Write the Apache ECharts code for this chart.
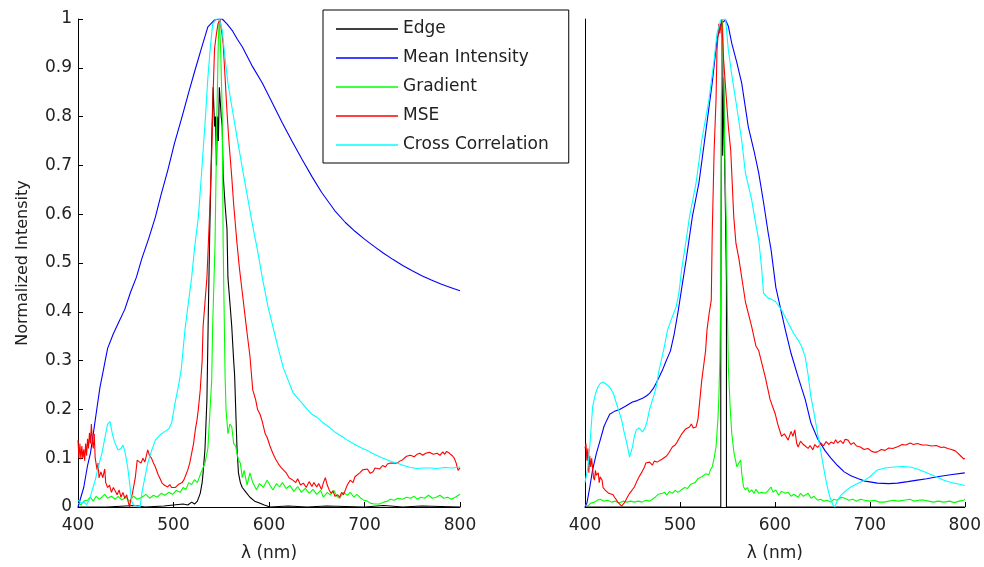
<!DOCTYPE html>
<html><head><meta charset="utf-8">
<script src="https://cdn.jsdelivr.net/npm/echarts@6/dist/echarts.min.js"></script>
<style>html,body{margin:0;padding:0;background:#fff}#c{width:984px;height:567px}</style>
</head><body><div id="c"></div>
<script>
// ---- data: [wavelength nm, normalized intensity] ----
const seriesNames = ['Edge','Mean Intensity','Gradient','MSE','Cross Correlation'];
const xTicks = [400,500,600,700,800];
const yTicks = [0,0.1,0.2,0.3,0.4,0.5,0.6,0.7,0.8,0.9,1];

const leftEdge = [[400,0],[430,0],[460,0.003],[470,0],[490,0.002],[500,0.004],[510,0.006],[515,0.004],[519,0.01],[522,0.006],[525,0.012],[528,0.028],[530,0.05],[531,0.07],[533,0.12],[535,0.22],[536.5,0.40],[538,0.57],[540,0.75],[541.5,0.86],[543,0.78],[544,0.80],[545,0.70],[546,0.80],[547,0.75],[548,0.86],[549,0.86],[550,0.80],[551,0.78],[552,0.68],[554,0.62],[556,0.57],[557,0.47],[559,0.42],[561,0.37],[563,0.30],[564,0.27],[565.5,0.18],[566.5,0.12],[568,0.07],[570,0.05],[572,0.04],[576,0.03],[580,0.02],[585,0.012],[590,0.008],[595,0.004],[601,0],[620,0.002],[640,0],[660,0.002],[700,0],[720,0.003],[740,0],[760,0.002],[800,0]];

const leftMean = [[400,0],[402,0],[406,0.04],[410,0.085],[413,0.11],[416,0.15],[420,0.205],[423,0.245],[426,0.275],[431,0.325],[437,0.355],[443,0.38],[449,0.405],[455,0.44],[461,0.47],[467,0.51],[474,0.55],[481,0.594],[487,0.64],[494,0.69],[501,0.745],[509,0.80],[516,0.85],[522.5,0.895],[530,0.945],[536,0.984],[543,0.998],[548,1.0],[551,1.0],[556,0.99],[562,0.975],[567,0.958],[572,0.943],[582,0.905],[593,0.869],[603,0.83],[614,0.787],[624,0.75],[635,0.711],[645,0.677],[655,0.645],[669,0.607],[680,0.583],[690,0.565],[700,0.549],[710,0.534],[720,0.52],[730,0.507],[740,0.495],[750,0.484],[760,0.474],[770,0.465],[780,0.457],[790,0.45],[800,0.443]];

const leftGradient = [[400,0.008],[403,0.004],[406,0.012],[410,0.014],[413,0.02],[416,0.012],[419,0.022],[422,0.016],[425,0.02],[428,0.026],[431,0.018],[435,0.022],[439,0.016],[442,0.022],[446,0.014],[450,0.02],[454,0.012],[458,0.022],[462,0.016],[467,0.02],[471,0.026],[475,0.018],[479,0.024],[483,0.02],[487,0.028],[491,0.024],[495,0.03],[499,0.026],[503,0.034],[507,0.03],[510,0.04],[513,0.036],[516,0.05],[519,0.046],[522,0.056],[525,0.05],[528,0.066],[530,0.076],[533,0.09],[536,0.12],[538,0.19],[540,0.26],[541,0.37],[543.5,0.54],[545.5,0.81],[547,0.96],[548,1.0],[549.5,0.93],[551,0.81],[552,0.54],[554,0.27],[555,0.2],[557,0.15],[559,0.17],[561,0.165],[563,0.13],[565,0.125],[568,0.096],[570,0.09],[572,0.06],[574,0.075],[577,0.045],[580,0.07],[583,0.05],[587,0.035],[590,0.048],[594,0.04],[598,0.055],[601,0.045],[604,0.035],[608,0.048],[611,0.041],[614,0.05],[618,0.038],[622,0.044],[626,0.032],[630,0.042],[634,0.03],[638,0.038],[642,0.028],[646,0.036],[650,0.026],[654,0.034],[657,0.02],[661,0.03],[664,0.025],[668,0.034],[671,0.022],[674,0.018],[678,0.03],[682,0.024],[685,0.03],[689,0.02],[692,0.026],[695,0.02],[699,0.014],[703,0.012],[706,0.008],[710,0.006],[716,0.006],[720,0.01],[724,0.012],[727,0.016],[731,0.014],[735,0.018],[740,0.016],[744,0.02],[748,0.018],[752,0.022],[755,0.016],[759,0.02],[763,0.018],[767,0.024],[771,0.018],[775,0.02],[779,0.024],[783,0.018],[787,0.02],[791,0.016],[795,0.02],[800,0.026]];

const leftMSE = [[400,0.137],[401,0.1],[402,0.13],[403,0.098],[404,0.125],[405,0.1],[406,0.118],[407,0.095],[408,0.13],[409,0.105],[410,0.14],[411,0.12],[412,0.152],[413,0.13],[414,0.17],[415,0.135],[416,0.12],[417,0.15],[418,0.1],[420,0.076],[421,0.09],[422,0.06],[424,0.072],[426,0.06],[428,0.078],[429,0.05],[431,0.04],[433,0.045],[435,0.03],[437,0.04],[439,0.033],[441,0.025],[443,0.035],[445,0.02],[447,0.03],[449,0.018],[451,0.025],[452,0.015],[454,0.0],[455,0.012],[457,0.028],[458,0.03],[460,0.06],[462,0.096],[464,0.1],[466,0.09],[468,0.1],[470,0.092],[472,0.094],[473,0.117],[475,0.105],[477,0.1],[479,0.09],[481,0.082],[484,0.066],[486,0.058],[488,0.049],[491,0.044],[494,0.041],[496,0.046],[498,0.04],[500,0.042],[502,0.04],[505,0.046],[507,0.044],[509,0.05],[511,0.056],[513,0.066],[515,0.076],[517,0.09],[519,0.11],[521,0.13],[523,0.16],[524.6,0.178],[526,0.2],[528,0.24],[530,0.3],[531,0.37],[533,0.42],[535,0.47],[536.5,0.54],[538,0.61],[540,0.725],[541.5,0.85],[543,0.94],[545,0.97],[546.6,0.99],[548.7,1.0],[550,0.98],[552,0.95],[554,0.88],[556,0.81],[558,0.75],[561,0.676],[563,0.62],[566.5,0.54],[569,0.49],[572,0.44],[575,0.39],[577,0.357],[580,0.31],[583,0.24],[586,0.22],[588,0.2],[590.6,0.19],[593,0.175],[596,0.15],[598,0.143],[601,0.125],[604,0.11],[607,0.098],[610,0.088],[613,0.08],[615,0.076],[618,0.07],[621,0.06],[623,0.062],[625,0.055],[628,0.05],[630,0.058],[633,0.045],[636,0.049],[639,0.04],[642,0.052],[645,0.042],[647,0.05],[650,0.041],[652,0.048],[655,0.036],[657,0.05],[659,0.06],[661,0.045],[663,0.035],[665,0.028],[667,0.033],[669,0.022],[672,0.025],[674,0.02],[676,0.03],[678,0.025],[680,0.035],[682,0.045],[685,0.055],[688,0.05],[690,0.062],[692,0.058],[695,0.07],[698,0.076],[700,0.072],[703,0.078],[706,0.069],[709,0.072],[711,0.08],[713,0.076],[716,0.078],[719,0.085],[722,0.082],[724,0.088],[727,0.09],[730,0.09],[734,0.09],[737,0.094],[740,0.097],[744,0.104],[748,0.106],[752,0.103],[755,0.108],[758,0.11],[761,0.106],[764,0.11],[768,0.112],[772,0.108],[776,0.11],[779,0.106],[782,0.113],[784,0.108],[786,0.114],[789,0.11],[792,0.105],[794,0.1],[796,0.09],[797,0.082],[798,0.075],[800,0.08]];

const leftCross = [[400,0.014],[403,0.008],[406,0.01],[409,0.005],[412,0.015],[415,0.035],[418,0.055],[421,0.08],[425,0.11],[428,0.14],[431,0.17],[433.5,0.175],[436,0.15],[438,0.135],[440,0.125],[442,0.117],[445,0.12],[447,0.127],[449,0.115],[452,0.082],[454,0.05],[456,0.014],[458,0.004],[460,0],[465,0],[467,0.03],[470,0.06],[473,0.09],[477,0.115],[481,0.137],[486,0.148],[491,0.155],[495,0.16],[498,0.172],[501.6,0.213],[505,0.246],[508,0.28],[512,0.363],[515,0.41],[519,0.47],[522,0.53],[526,0.594],[528.5,0.66],[531,0.73],[533.5,0.8],[536,0.88],[538.5,0.94],[541,0.99],[545,1.0],[548,1.0],[551,0.977],[554,0.92],[557,0.868],[562,0.81],[567.5,0.746],[572.5,0.69],[578,0.63],[583,0.575],[588,0.526],[593,0.47],[599,0.41],[604,0.37],[609,0.33],[615,0.285],[620,0.26],[625,0.235],[629,0.225],[635,0.212],[640,0.2],[645,0.19],[650,0.184],[657,0.172],[664,0.162],[670,0.152],[676,0.145],[682,0.137],[688,0.13],[694,0.124],[698,0.12],[703,0.116],[708,0.11],[716,0.103],[722,0.098],[728,0.093],[734,0.09],[741,0.085],[748,0.081],[755,0.079],[762,0.08],[769,0.08],[776,0.079],[784,0.081],[792,0.08],[800,0.082]];

const rightEdge = [[400,0],[543,0],[543,0.36],[544,0.98],[545,0.72],[546,0.88],[547,0.72],[548,0.6],[549,0.46],[549,0],[800,0]];

const rightMean = [[400,0],[402,0.008],[405,0.04],[408,0.076],[412,0.11],[416,0.137],[420,0.165],[423,0.178],[426,0.19],[431,0.196],[436.5,0.2],[443,0.207],[450,0.215],[455,0.218],[460.6,0.223],[465,0.228],[468,0.233],[472,0.243],[475,0.254],[478,0.266],[481.5,0.28],[485,0.297],[490,0.32],[494,0.355],[498,0.40],[502,0.45],[506.5,0.506],[513,0.594],[520,0.664],[527,0.766],[534,0.869],[539,0.957],[543,0.99],[548,0.998],[551,0.985],[554.6,0.95],[560,0.91],[565,0.869],[572,0.779],[578,0.73],[583,0.684],[588,0.625],[593,0.561],[596,0.527],[601,0.45],[604,0.424],[611,0.363],[617,0.315],[624.5,0.266],[632,0.22],[638,0.172],[645,0.14],[653,0.115],[659,0.1],[666,0.085],[673,0.072],[680,0.064],[688,0.058],[695,0.053],[708,0.049],[720,0.048],[729,0.049],[740,0.052],[750,0.055],[760,0.058],[771,0.062],[785,0.066],[800,0.07]];

const rightGradient = [[400,0.004],[403,0.002],[406,0.008],[410,0.01],[413,0.014],[416,0.016],[420,0.012],[424,0.014],[428,0.01],[432,0.012],[436,0.008],[440,0.012],[444,0.01],[448,0.012],[452,0.01],[456,0.012],[460,0.01],[464,0.014],[468,0.012],[471,0.016],[474,0.02],[477,0.026],[479,0.022],[481.5,0.028],[484,0.03],[486,0.024],[489,0.032],[492,0.028],[495,0.034],[498,0.03],[502,0.036],[505,0.04],[508,0.038],[511,0.046],[513,0.049],[516,0.05],[519,0.058],[521,0.056],[523,0.062],[525,0.06],[527,0.068],[530.5,0.066],[532,0.076],[534,0.082],[536,0.1],[538,0.123],[540,0.18],[541,0.225],[542,0.3],[543,0.45],[543.5,0.7],[544,1.0],[545,0.99],[546,0.9],[547,0.75],[549,0.56],[550,0.4],[551,0.287],[553,0.2],[554.6,0.15],[557,0.11],[560,0.082],[562,0.09],[564,0.096],[565,0.07],[567,0.041],[569,0.035],[571,0.04],[573,0.03],[575.5,0.035],[578,0.028],[580,0.036],[583,0.028],[586,0.03],[588,0.026],[590,0.028],[593,0.034],[596,0.041],[598,0.03],[601,0.035],[604,0.024],[607,0.032],[611,0.028],[614,0.03],[617,0.022],[620,0.026],[624.5,0.02],[627,0.028],[630,0.022],[635,0.028],[638,0.018],[641,0.022],[645,0.014],[648,0.016],[652,0.012],[655,0.014],[659,0.01],[662,0.016],[666,0.014],[670,0.02],[673.6,0.018],[678,0.014],[682,0.016],[686,0.012],[690,0.016],[694.5,0.014],[700,0.012],[705,0.014],[710,0.01],[715,0.01],[720,0.012],[725,0.014],[730,0.012],[736,0.014],[742,0.016],[747,0.012],[752,0.014],[757,0.014],[762,0.012],[767,0.01],[772,0.012],[778,0.01],[784,0.012],[789,0.009],[794,0.012],[799,0.014],[800,0.016]];

const rightMSE = [[400,0.12],[401,0.13],[402,0.095],[403,0.12],[404,0.07],[405,0.105],[406,0.082],[407,0.1],[408,0.08],[409,0.06],[410,0.055],[411,0.075],[412,0.065],[414,0.07],[415,0.05],[416,0.062],[418,0.055],[419,0.04],[421,0.035],[423,0.038],[425,0.028],[427,0.03],[429.6,0.025],[431,0.02],[433,0.015],[434.5,0.01],[436,0.008],[438.6,0.002],[440,0.004],[442,0.01],[444,0.018],[447,0.028],[449,0.032],[452,0.041],[454,0.05],[457,0.062],[460,0.072],[462.7,0.082],[464,0.09],[466,0.086],[468,0.092],[471,0.086],[473,0.094],[476,0.092],[478,0.096],[481,0.098],[483,0.102],[485.6,0.104],[488,0.11],[490,0.114],[492,0.123],[495,0.127],[497,0.133],[499,0.137],[502,0.15],[504,0.152],[506,0.16],[508,0.158],[510,0.164],[512,0.17],[514,0.162],[517,0.164],[519,0.18],[520,0.2],[522,0.24],[523,0.26],[525,0.29],[527,0.32],[528.5,0.363],[531,0.4],[533,0.424],[534,0.56],[536,0.73],[538,0.834],[539,0.936],[541,0.99],[542,0.97],[544,1.0],[546,0.916],[549,0.834],[551,0.78],[553.5,0.73],[556.7,0.594],[559,0.54],[562,0.51],[569,0.42],[575.5,0.37],[580,0.33],[583,0.32],[590,0.265],[595,0.22],[600.5,0.19],[603,0.17],[607,0.145],[610,0.15],[614,0.137],[617,0.155],[619,0.145],[621,0.158],[623,0.13],[624.5,0.123],[627,0.135],[630,0.128],[632,0.131],[635,0.12],[637,0.126],[640,0.117],[642,0.128],[645,0.122],[648.6,0.131],[651,0.125],[654,0.134],[657,0.128],[659,0.133],[662,0.13],[664,0.138],[666,0.131],[669,0.136],[672,0.13],[674,0.139],[677,0.137],[680,0.128],[683,0.132],[686,0.125],[690,0.123],[694,0.118],[698,0.12],[702,0.114],[705,0.112],[708,0.113],[712,0.118],[716,0.116],[720,0.121],[724,0.12],[726,0.123],[730,0.124],[734,0.128],[738,0.127],[742.5,0.131],[746,0.128],[750,0.13],[755,0.127],[760,0.127],[765,0.125],[770,0.126],[775,0.122],[778,0.123],[782,0.12],[786,0.118],[790,0.115],[793,0.11],[796,0.104],[799,0.098],[800,0.1]];

const rightCross = [[400,0.05],[402,0.049],[403,0.08],[405,0.123],[408,0.205],[411,0.232],[413.6,0.246],[416,0.253],[419,0.256],[422,0.252],[426,0.246],[430,0.232],[433,0.213],[436,0.195],[438.6,0.178],[441,0.155],[444,0.131],[447,0.102],[450,0.123],[452,0.145],[454,0.158],[457,0.162],[460.6,0.154],[463,0.162],[465,0.172],[468,0.2],[472,0.225],[475,0.246],[478,0.28],[483.5,0.328],[487,0.363],[492,0.39],[496,0.41],[499,0.44],[502,0.49],[506,0.54],[510,0.594],[517,0.664],[523,0.752],[530.5,0.834],[536,0.916],[539,0.97],[543,0.998],[548,1.0],[551,0.936],[555,0.88],[558.7,0.834],[565,0.752],[569,0.684],[575.5,0.63],[579,0.59],[583,0.547],[586,0.49],[588,0.438],[593,0.428],[597,0.425],[601,0.42],[607,0.404],[614,0.377],[620,0.355],[624.5,0.342],[628,0.33],[632,0.307],[635,0.27],[638,0.225],[642,0.184],[645,0.15],[647.5,0.123],[651,0.085],[653,0.062],[656,0.035],[658,0.02],[661,0.005],[663,0],[666,0.014],[670,0.025],[675,0.034],[680,0.041],[686,0.047],[694.5,0.055],[700,0.062],[708,0.076],[716,0.08],[726,0.082],[735,0.083],[742.5,0.082],[750,0.078],[760,0.07],[770,0.062],[778,0.055],[786,0.05],[793,0.047],[800,0.044]];

const colors = ['#000000','#0000ff','#00ff00','#ff0000','#00ffff'];
const leftSets = [leftEdge,leftMean,leftGradient,leftMSE,leftCross];
const rightSets = [rightEdge,rightMean,rightGradient,rightMSE,rightCross];

const FONT = 'DejaVu Sans';
const FS = 17;
const TXT = '#222';

function xAxisDef(gi){
  return {type:'value', gridIndex:gi, min:400, max:800, interval:100,
    name:'\u03bb (nm)', nameLocation:'middle', nameGap:38,
    nameTextStyle:{fontFamily:FONT,fontSize:FS,color:TXT},
    axisLine:{lineStyle:{color:'#000',width:1}},
    axisTick:{inside:true,length:5,lineStyle:{color:'#000'}},
    axisLabel:{fontFamily:FONT,fontSize:FS,color:TXT,margin:10,showMinLabel:true,showMaxLabel:true},
    splitLine:{show:false}};
}
const chart = echarts.init(document.getElementById('c'), null, {renderer:'canvas'});
const series = [];
[leftSets,rightSets].forEach((sets,gi)=>{
  sets.forEach((d,i)=>{
    series.push({type:'line', name:seriesNames[i], xAxisIndex:gi, yAxisIndex:gi, data:d,
      showSymbol:false, symbol:'none', clip:true, silent:true,
      lineStyle:{color:colors[i],width:1.1}, itemStyle:{color:colors[i]}, z:2+i});
  });
});
chart.setOption({
  animation:false,
  backgroundColor:'#fff',
  grid:[{left:78,right:524,top:19,bottom:60},{left:585,right:16,top:19,bottom:60}],
  xAxis:[xAxisDef(0), xAxisDef(1)],
  yAxis:[
    {type:'value', gridIndex:0, min:0, max:1, interval:0.1,
     name:'Normalized Intensity', nameLocation:'middle', nameGap:47, nameRotate:90,
     nameTextStyle:{fontFamily:FONT,fontSize:16,color:TXT},
     axisLine:{show:true,lineStyle:{color:'#000',width:1}},
     axisTick:{show:true,inside:true,length:5,lineStyle:{color:'#000'}},
     axisLabel:{fontFamily:FONT,fontSize:FS,color:TXT,margin:6,
       formatter:v=>String(+(+v).toFixed(1))},
     splitLine:{show:false}},
    {type:'value', gridIndex:1, min:0, max:1, interval:0.1,
     axisLine:{show:true,lineStyle:{color:'#000',width:1}},
     axisTick:{show:false}, axisLabel:{show:false}, splitLine:{show:false}}
  ],
  legend:{show:true, orient:'vertical', left:323, top:10,
    data:seriesNames, icon:'rect', itemWidth:62, itemHeight:1.6, itemGap:9,
    padding:[9,20,8,13], borderColor:'#000', borderWidth:1, backgroundColor:'#fff',
    selectedMode:false,
    textStyle:{fontFamily:FONT,fontSize:FS,color:TXT,lineHeight:20}},
  series
});
</script></body></html>
